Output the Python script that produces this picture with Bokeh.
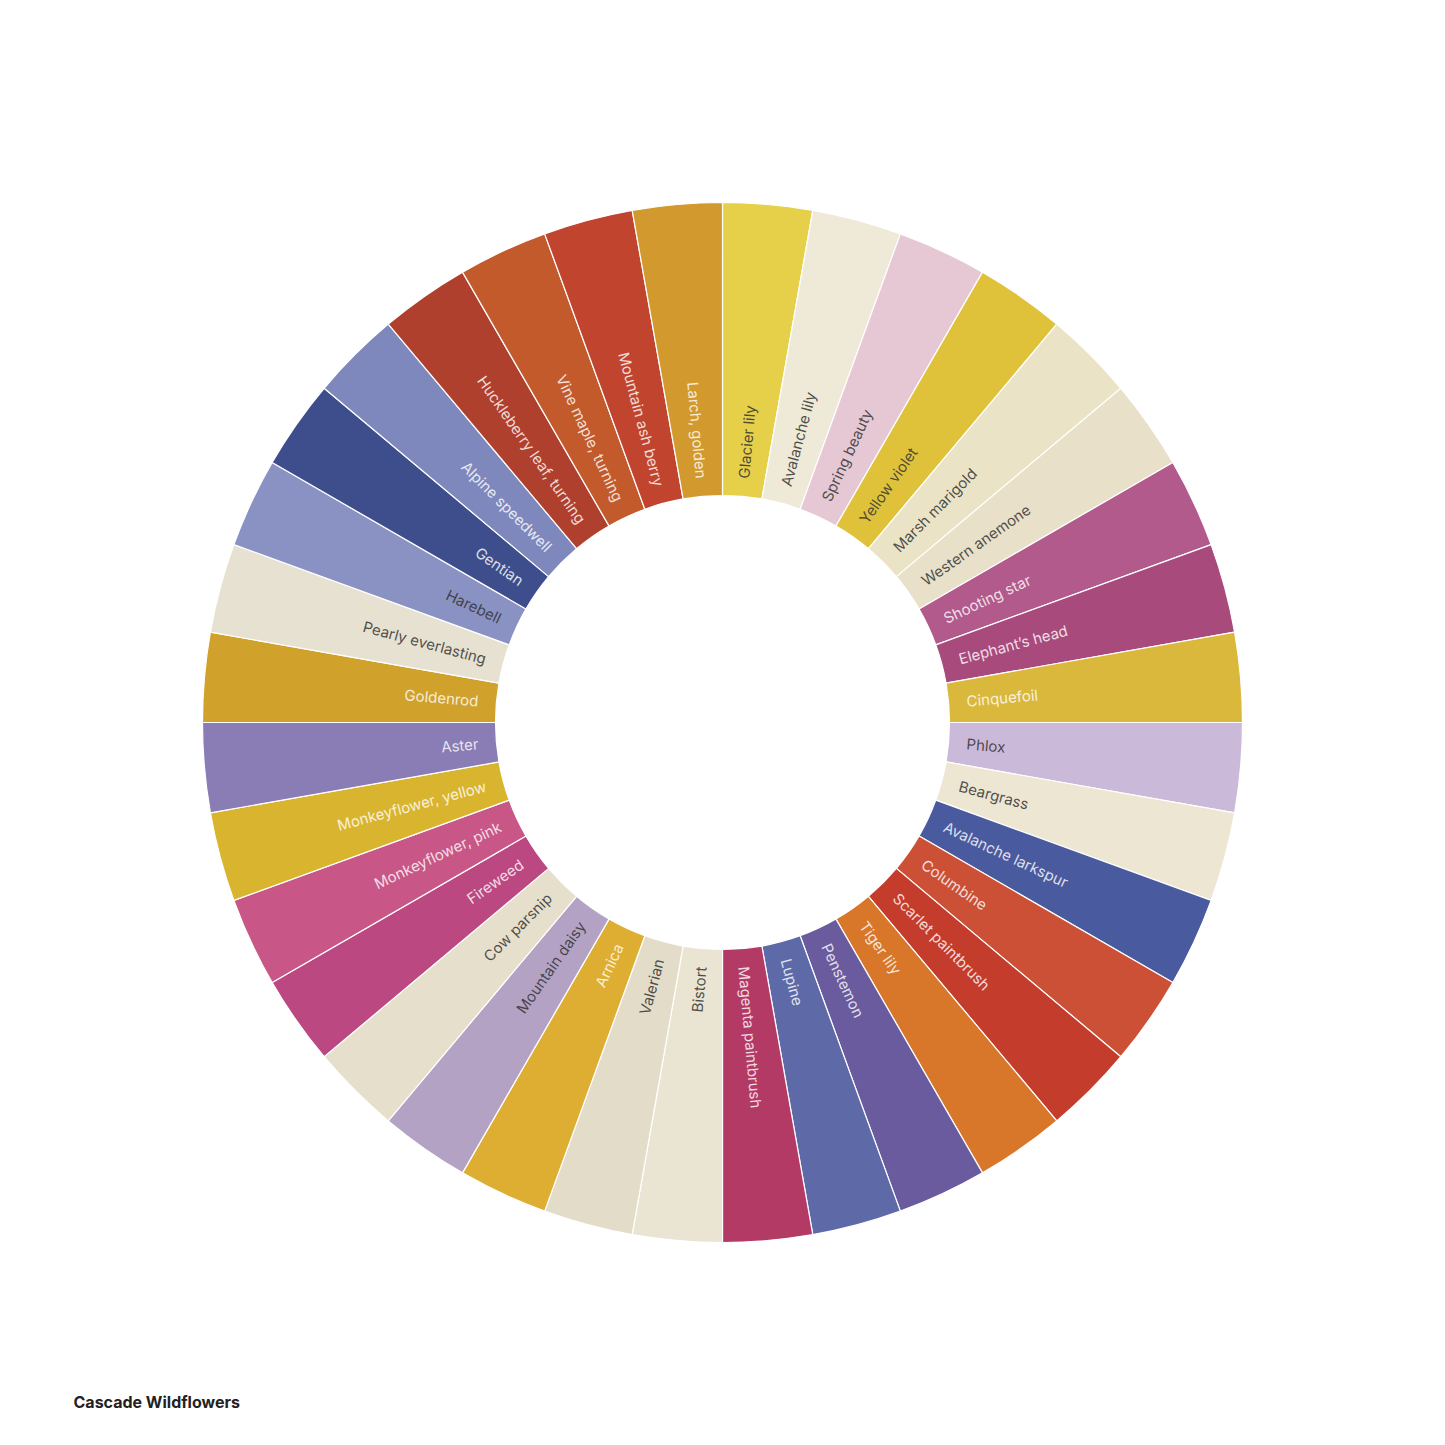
import numpy as np
from bokeh.plotting import figure
from bokeh.models import ColumnDataSource, Label
from bokeh.core.properties import value
from bokeh.embed import file_html
from bokeh.resources import INLINE

names = ["Glacier lily", "Avalanche lily", "Spring beauty", "Yellow violet", "Marsh marigold",
         "Western anemone", "Shooting star", "Elephant\u2019s head", "Cinquefoil", "Phlox",
         "Beargrass", "Avalanche larkspur", "Columbine", "Scarlet paintbrush", "Tiger lily",
         "Penstemon", "Lupine", "Magenta paintbrush", "Bistort", "Valerian", "Arnica",
         "Mountain daisy", "Cow parsnip", "Fireweed", "Monkeyflower, pink", "Monkeyflower, yellow",
         "Aster", "Goldenrod", "Pearly everlasting", "Harebell", "Gentian", "Alpine speedwell",
         "Huckleberry leaf, turning", "Vine maple, turning", "Mountain ash berry", "Larch, golden"]
values = [1] * 36
colors = ["#e6d04a", "#efe9d8", "#e6c8d4", "#dfc23a", "#ebe3c6",
          "#e8e0c8", "#b25a8c", "#a84a7c", "#dab83c", "#cbb9da",
          "#ede6d2", "#4a5a9e", "#cb5036", "#c43c2c", "#d8762a",
          "#6a5a9e", "#5e6aa8", "#b43a66", "#eae4d2", "#e3dcc8", "#deae32",
          "#b4a2c4", "#e6dfcb", "#bc4882", "#c85686", "#d9b42e",
          "#8a7cb4", "#d0a22c", "#e7e1d1", "#8a92c4", "#3e4e8c", "#7e88bc",
          "#b0402e", "#c25a2c", "#c0442e", "#d29a2e"]
dark_text = [1, 1, 1, 1, 1, 1, 0, 0, 0, 1, 1, 0, 0, 0, 0, 0, 0, 0, 1, 1, 0,
             1, 1, 0, 0, 0, 0, 0, 1, 1, 0, 0, 0, 0, 0, 0]
title = "Cascade Wildflowers"

W = 1429
CX = 722
R_IN, R_OUT, R_TXT = 227, 520, 245

vals = np.array(values, dtype=float)
cum = np.concatenate([[0], np.cumsum(vals)]) / vals.sum() * 2 * np.pi
start = np.pi / 2 - cum[1:]
end = np.pi / 2 - cum[:-1]
mid = (start + end) / 2
right = np.cos(mid) >= 0
tangle = np.where(right, mid, mid + np.pi)
align = np.where(right, "left", "right")
tcol = ["#333333" if d else "#ffffff" for d in dark_text]
talpha = [0.85 if d else 0.82 for d in dark_text]

src = ColumnDataSource(dict(start=start, end=end, color=colors, name=names,
                            tx=R_TXT * np.cos(mid), ty=R_TXT * np.sin(mid),
                            tangle=tangle, align=list(align), tcol=tcol, talpha=talpha))

p = figure(width=W, height=W, x_range=(-CX, W - CX), y_range=(-(W - CX), CX),
           output_backend="svg", toolbar_location=None, min_border=0)
p.axis.visible = False
p.grid.visible = False
p.outline_line_color = None
p.background_fill_color = "white"

p.annular_wedge(x=0, y=0, inner_radius=R_IN, outer_radius=R_OUT, start_angle="start",
                end_angle="end", fill_color="color", line_color="white", line_width=1.2,
                source=src)
p.text(x="tx", y="ty", text="name", angle="tangle", text_align="align",
       text_baseline="middle", text_color="tcol", text_alpha="talpha",
       text_font=value("Inter"), text_font_size="15px", source=src)

p.add_layout(Label(x=73, y=W - 1401, x_units="screen", y_units="screen", text=title,
                   text_font="Inter", text_font_size="16px", text_font_style="bold",
                   text_color="#222222", text_baseline="middle"))

open("out.html", "w").write(file_html(p, INLINE))
